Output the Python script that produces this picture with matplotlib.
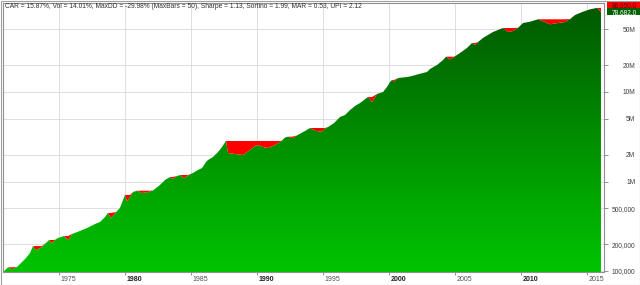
import numpy as np
import matplotlib
matplotlib.use('Agg')
import matplotlib.pyplot as plt
from matplotlib.colors import LinearSegmentedColormap
from matplotlib.ticker import NullLocator
from matplotlib.patches import Rectangle
import matplotlib.transforms as mtrans

# ---------------- data ----------------
years = [1970.86, 1971.16, 1971.46, 1971.84, 1972.45, 1972.83, 1973.05, 1973.28, 1973.73, 1974.11,
         1974.27, 1974.49, 1974.72, 1974.95, 1975.40, 1975.70, 1976.01, 1976.61, 1977.14, 1977.75,
         1978.13, 1978.51, 1978.73, 1978.96, 1979.34, 1979.64, 1979.87, 1980.02, 1980.17, 1980.40,
         1980.63, 1980.93, 1981.31, 1981.77, 1982.14, 1982.67, 1983.05, 1983.43, 1983.66, 1983.96,
         1984.19, 1984.49, 1984.80, 1985.17, 1985.55, 1985.86, 1986.16, 1986.31, 1986.69, 1987.07,
         1987.37, 1987.67, 1987.83, 1988.36, 1988.96, 1989.49, 1989.87, 1990.10, 1990.48, 1990.86,
         1991.39, 1991.77, 1991.92, 1992.14, 1992.37, 1992.67, 1993.05, 1993.66, 1994.04, 1994.49,
         1994.95, 1995.17, 1995.40, 1995.86, 1996.31, 1996.69, 1997.07, 1997.45, 1997.83, 1998.43,
         1998.74, 1999.11, 1999.57, 1999.87, 2000.10, 2000.25, 2000.40, 2000.71, 2001.39, 2001.77,
         2002.22, 2002.60, 2002.90, 2003.13, 2003.66, 2004.12, 2004.34, 2004.64, 2004.95, 2005.17,
         2005.40, 2005.93, 2006.31, 2006.54, 2006.77, 2007.14, 2007.52, 2007.90, 2008.66, 2009.04,
         2009.42, 2009.80, 2010.18, 2010.71, 2011.31, 2011.84, 2012.22, 2012.83, 2013.36, 2013.74,
         2014.12, 2014.72, 2015.25, 2015.78, 2016.08]

equity_k = [100, 110, 105, 111, 136, 159, 190, 172, 186, 211,
            222, 205, 223, 234, 246, 222, 259, 280, 302, 335,
            353, 401, 445, 391, 456, 506, 621, 707, 600, 671,
            763, 789, 744, 763, 793, 914, 1039, 1123, 1066, 1152,
            1182, 1094, 1167, 1245, 1345, 1415, 1652, 1739, 1878, 2136,
            2429, 2835, 2082, 2029, 1978, 2249, 2493, 2557, 2429, 2367,
            2557, 2763, 2872, 3100, 3167, 3040, 3270, 3670, 3960, 3670,
            3600, 3910, 4060, 4500, 5260, 5530, 6290, 6980, 7540, 8790,
            7730, 9500, 10000, 11370, 12930, 13620, 13100, 14330, 14710, 15090,
            15770, 16310, 16730, 18070, 20030, 22780, 24800, 23080, 24610, 25910,
            27280, 31020, 35270, 33500, 36200, 40120, 43350, 46820, 51890, 46820,
            48040, 52200, 59000, 61000, 64900, 60500, 57100, 59000, 60500, 65400,
            72500, 78900, 83900, 86950, 78682]

x_ticks = [1975, 1980, 1985, 1990, 1995, 2000, 2005, 2010, 2015]
bold_years = [1980, 1990, 2000, 2010]
y_ticks = [1e5, 2e5, 5e5, 1e6, 2e6, 5e6, 1e7, 2e7, 5e7]
y_tick_labels = ['100,000', '200,000', '500,000', '1M', '2M', '5M', '10M', '20M', '50M']

stats = ("CAR = 15.87%, Vol = 14.01%, MaxDD = -29.98% (MaxBars = 50), "
         "Sharpe = 1.13, Sortino = 1.99, MAR = 0.53, UPI = 2.12")

# ---------------- figure ----------------
plt.rcParams['font.family'] = ['Liberation Sans', 'DejaVu Sans']

fig = plt.figure(figsize=(6.4, 2.85), dpi=100)
ax = fig.add_axes([3/640, 13/285, 601/640, 269/285])
ax.set_yscale('log')

xlim = (1970.78, 2016.31)
ylim = (97500, 98.7e6)

eq = np.array(equity_k, dtype=float) * 1000
peak = np.maximum.accumulate(eq)
yrs = np.array(years)

poly = ax.fill_between(yrs, ylim[0], eq, facecolor='none', edgecolor='none')
cmap = LinearSegmentedColormap.from_list('g', ['#00c400', '#005800'])
grad = np.linspace(0, 1, 256).reshape(-1, 1)
im = ax.imshow(grad, extent=[0, 1, 0, 1], transform=ax.transAxes, origin='lower',
               aspect='auto', cmap=cmap, zorder=2, interpolation='bilinear')
im.set_clip_path(poly.get_paths()[0], ax.transData)

ax.fill_between(yrs, eq, peak, where=peak > eq, interpolate=True,
                color='#ff0000', lw=0, zorder=3)

ax.set_xlim(*xlim)
ax.set_ylim(*ylim)

# grid and ticks
ax.set_axisbelow(True)
ax.set_xticks(x_ticks)
ax.set_xticklabels([str(y) for y in x_ticks])
ax.yaxis.tick_right()
ax.set_yticks(y_ticks)
ax.set_yticklabels(y_tick_labels)
ax.yaxis.set_minor_locator(NullLocator())
ax.grid(True, color='#d9d9d9', lw=0.6)

ax.tick_params(axis='y', direction='out', length=3, width=0.6, color='#808080',
               labelsize=4.8, labelcolor='#404040', pad=19.5)
for lab in ax.get_yticklabels():
    lab.set_ha('right')
ax.tick_params(axis='x', direction='out', length=2.5, width=0.6, color='#808080',
               labelsize=5.0, labelcolor='#505050', pad=0.3)
offset = mtrans.ScaledTranslation(2/100, 0, fig.dpi_scale_trans)
for lab in ax.get_xticklabels():
    lab.set_ha('left')
    lab.set_transform(lab.get_transform() + offset)
    if int(lab.get_text()) in bold_years:
        lab.set_fontweight('bold')
        lab.set_color('#202020')

for s in ax.spines.values():
    s.set_color('#909090')
    s.set_linewidth(0.8)

ax.text(2/601, 1 - 0.3/269, stats, transform=ax.transAxes, va='top', ha='left',
        fontsize=4.8, color='#303030', zorder=5)

# right-side value labels (boxes placed at the data values)
ident = mtrans.IdentityTransform()
x_right = ax.transAxes.transform((1, 0))[0]
y_last = ax.transData.transform((xlim[1], eq[-1]))[1]
y_peak_box = y_last + 6.9
for yc, txt, fc, tc in [(y_last, f"{eq[-1]/1000:,.1f}", '#006000', 'white'),
                        (y_peak_box, f"{peak[-1]/1000:,.1f}", '#ff0000', '#500000')]:
    fig.patches.append(Rectangle((x_right + 3, yc - 3.4), 640 - x_right - 3, 6.8,
                                 transform=ident, fc=fc, ec='none', zorder=6))
    fig.text(x_right + 7.5, yc, txt, transform=ident, ha='left', va='center_baseline',
             fontsize=4.7, color=tc, zorder=7)

fig.patches.append(Rectangle((0.5/640, 0.5/285), 639/640, 284/285, transform=fig.transFigure,
                             fill=False, ec='#a0a0a0', lw=0.8))

fig.savefig('out.png', dpi=100)
